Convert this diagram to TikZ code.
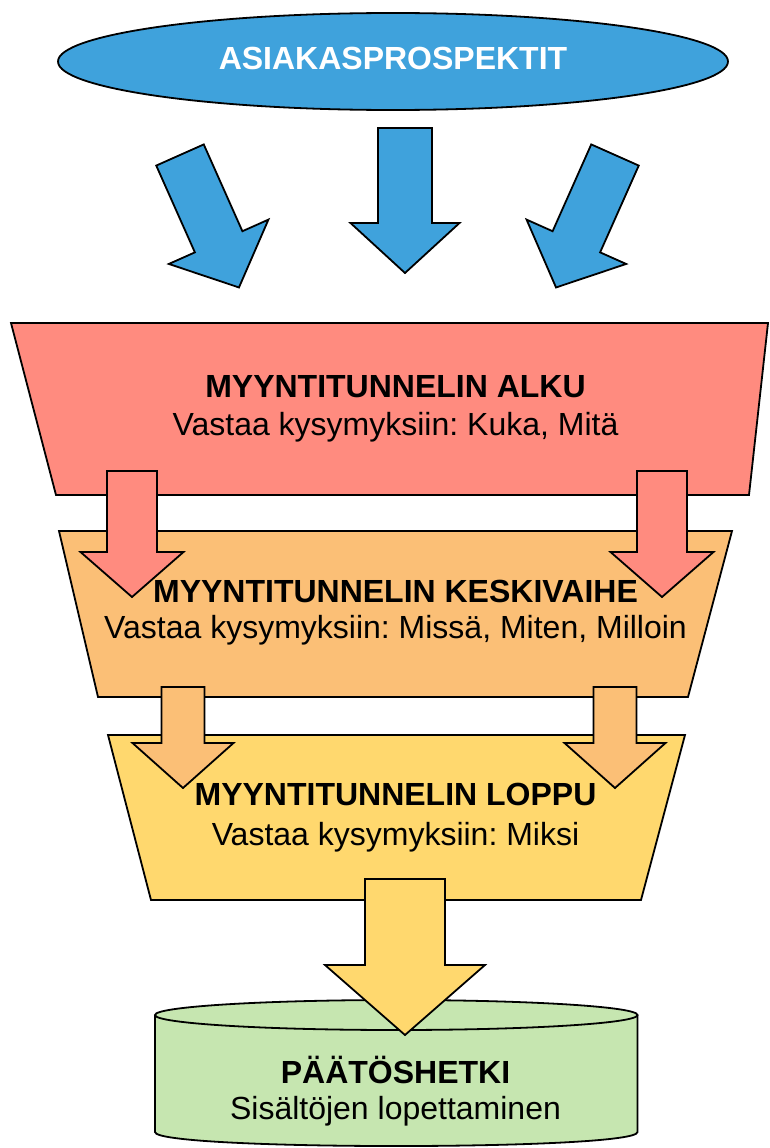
\documentclass[tikz,border=0pt]{standalone}
\usepackage{fontspec}
\setmainfont{Liberation Sans}
\usetikzlibrary{shapes.geometric}

\definecolor{prospectblue}{HTML}{3FA2DC}
\definecolor{stagered}{HTML}{FF8B7F}
\definecolor{stageorange}{HTML}{FBBF76}
\definecolor{stageyellow}{HTML}{FFD86E}
\definecolor{decisiongreen}{HTML}{C6E6B0}

\frenchspacing

\begin{document}
\begin{tikzpicture}[x=1pt, y=-1pt, line width=1.8pt, line join=miter,
  shapeline/.style={draw=black},
  bodytext/.style={anchor=base, inner sep=0pt, font=\fontsize{32}{36}\selectfont},
  headtext/.style={anchor=base, inner sep=0pt, font=\fontsize{32}{36}\selectfont\bfseries},
  % block arrow pointing along +y (downwards): shaft half width, head half width, shaft length, head length
  pics/blockarrow/.style n args={4}{code={
    \path[pic actions] (-#1,0) -- (#1,0) -- (#1,#3) -- (#2,#3) -- (0,#3+#4)
      -- (-#2,#3) -- (-#1,#3) -- cycle;
  }}]

\useasboundingbox[fill=white] (0,0) rectangle (770,1148);

% prospects
\node[ellipse, shapeline, fill=prospectblue, minimum width=670pt, minimum height=97pt,
  inner sep=0pt] (prospects) at (393,61.5) {};

\pic[shapeline, fill=prospectblue, rotate=24] (inflowleft) at (180,155) {blockarrow={26}{54.5}{95}{50}};
\pic[shapeline, fill=prospectblue] (inflowmid) at (405,128) {blockarrow={27}{54.5}{95}{50}};
\pic[shapeline, fill=prospectblue, rotate=-24] (inflowright) at (615,155) {blockarrow={26}{54.5}{95}{50}};

% funnel stages
\path[shapeline, fill=stagered] (11,323) -- (768,323) -- (749,495) -- (56,495) -- cycle;
\path[shapeline, fill=stageorange] (59,531) -- (732,531) -- (688,697) -- (98,697) -- cycle;

\pic[shapeline, fill=stagered] (redleft) at (132,471) {blockarrow={25}{51.5}{81}{45}};
\pic[shapeline, fill=stagered] (redright) at (662,471) {blockarrow={25}{51.5}{81}{45}};

\path[shapeline, fill=stageyellow] (108,735) -- (685,735) -- (641,900) -- (151,900) -- cycle;

\pic[shapeline, fill=stageorange] (orangeleft) at (183,687) {blockarrow={21.5}{50.5}{56}{45}};
\pic[shapeline, fill=stageorange] (orangeright) at (615,687) {blockarrow={21.5}{50.5}{56}{45}};

% decision cylinder
\path[shapeline, fill=decisiongreen] (155,1015) -- (155,1132)
  .. controls (155,1150.7) and (637.5,1150.7) .. (637.5,1132) -- (637.5,1015);
\path[shapeline, fill=decisiongreen] (396.25,1015) ellipse [x radius=241.25, y radius=15];

\pic[shapeline, fill=stageyellow] (yellowdown) at (405,879) {blockarrow={40}{80}{86}{70}};

% labels
\node[headtext, text=white] (prospectstitle) at (393,70) {ASIAKASPROSPEKTIT};

\node[headtext] (alkutitle) at (395.5,397) {MYYNTITUNNELIN ALKU};
\node[bodytext] (alkutext) at (395.5,435) {Vastaa kysymyksiin: Kuka, Mitä};

\node[headtext] (keskititle) at (395.5,602) {MYYNTITUNNELIN KESKIVAIHE};
\node[bodytext] (keskitext) at (395.5,638) {Vastaa kysymyksiin: Missä, Miten, Milloin};

\node[headtext] (lopputitle) at (395.5,805) {MYYNTITUNNELIN LOPPU};
\node[bodytext] (lopputext) at (395.5,845) {Vastaa kysymyksiin: Miksi};

\node[headtext] (paatostitle) at (395.5,1083) {PÄÄTÖSHETKI};
\node[bodytext] (paatostext) at (395.5,1119) {Sisältöjen lopettaminen};
\end{tikzpicture}
\end{document}
